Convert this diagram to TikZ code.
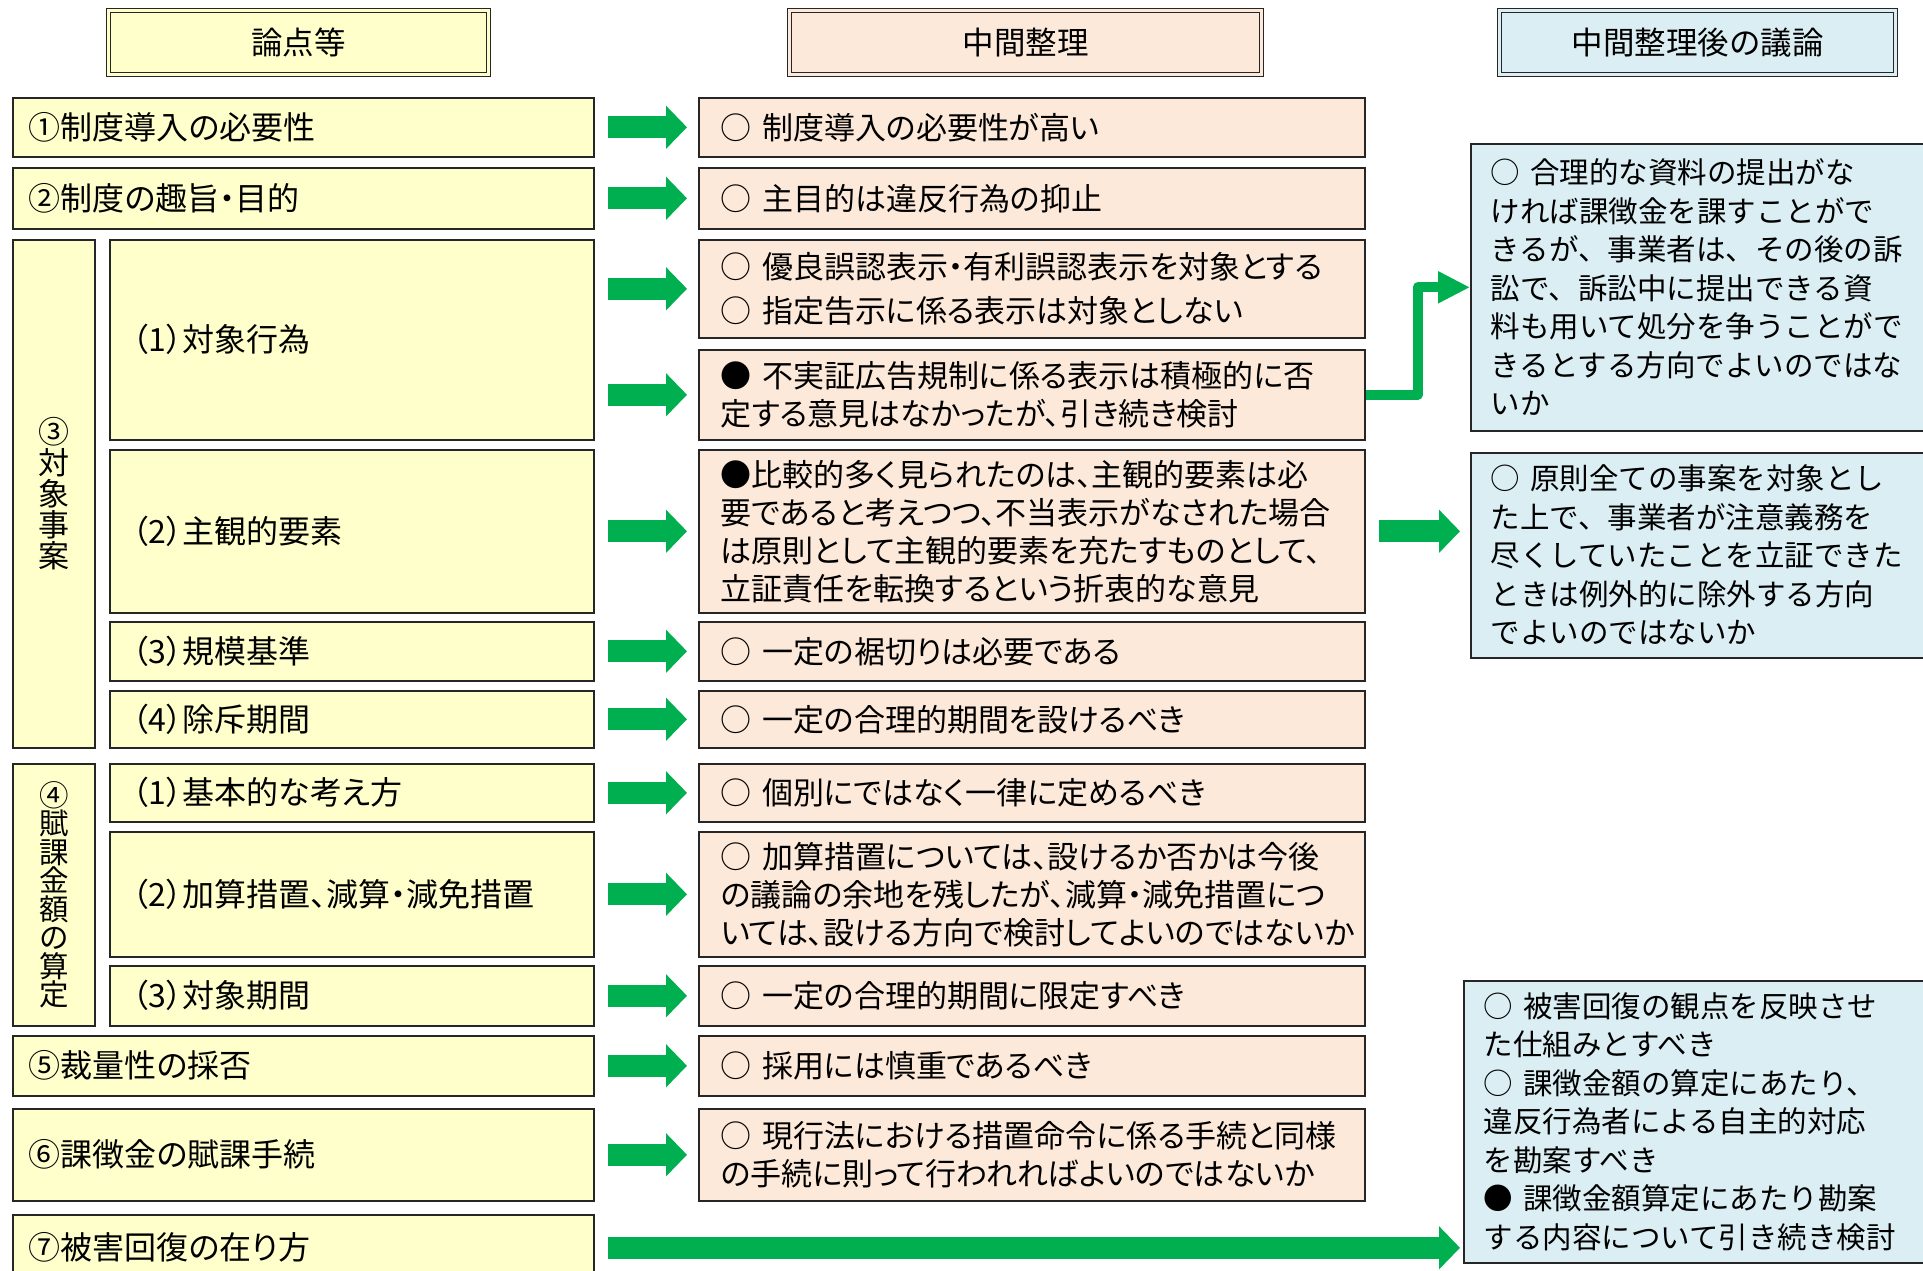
\documentclass[tikz,border=0pt]{standalone}
\usepackage{fontspec}
\setmainfont{Noto Sans CJK JP}
\newfontfamily\jpprop[RawFeature=+palt]{Noto Sans CJK JP}
\usetikzlibrary{arrows.meta}
\definecolor{pointfill}{HTML}{FFFFCC}
\definecolor{interimfill}{HTML}{FDE9D9}
\definecolor{afterfill}{HTML}{DBEEF3}
\definecolor{arrowgreen}{HTML}{00B050}

\begin{document}
\begin{tikzpicture}[x=1pt, y=-1pt,
    box/.style={draw=black!85, line width=1.6pt, anchor=north west, inner ysep=0pt,
      align=left, font=\jpprop\fontsize{31}{38}\selectfont},
    head/.style={draw=black!85, line width=1.3pt, double distance=2.6pt, anchor=north west,
      minimum height=64pt, font=\fontsize{31.5}{36}\selectfont},
    point/.style={box, fill=pointfill, minimum width=581pt, text width=549pt, inner xsep=16pt,
      font=\jpprop\fontsize{32}{38}\selectfont},
    sub/.style={point, minimum width=484pt, text width=438pt, inner xsep=23pt},
    tag/.style={box, fill=pointfill, minimum width=82pt, inner sep=0pt, align=center},
    interim/.style={box, fill=interimfill, minimum width=666pt, text width=622pt, inner xsep=22pt},
    after/.style={box, fill=afterfill, inner xsep=20pt, font=\fontsize{29.5}{38.5}\selectfont},
    flow/.style={draw=arrowgreen, line width=22pt, -{Triangle[length=21pt,width=42pt]},
      shorten <=13pt, shorten >=11pt},
    link/.style={draw=arrowgreen, line width=10pt, line join=round,
      -{Triangle[length=32pt,width=30pt]}}]
  \clip (0,0) rectangle (1923,1271);
  \fill[white] (0,0) rectangle (1923,1271);

  \node[head, fill=pointfill, double=pointfill, minimum width=380pt] (hpoint) at (108,10) {論点等};
  \node[head, fill=interimfill, double=interimfill, minimum width=472pt] (hinterim) at (789,10) {中間整理};
  \node[head, fill=afterfill, double=afterfill, minimum width=396pt] (hafter) at (1499,10) {中間整理後の議論};

  \node[point, minimum height=59pt] (l1) at (12,97) {①制度導入の必要性};
  \node[point, minimum height=61pt] (l2) at (12,167) {②制度の趣旨・目的};
  \node[tag, minimum height=508pt, font=\fontsize{31}{31}\selectfont] (l3) at (12,239) {③\\対\\象\\事\\案};
  \node[sub, minimum height=200pt] (l31) at (109,239) {（1）対象行為};
  \node[sub, minimum height=163pt] (l32) at (109,449) {（2）主観的要素};
  \node[sub, minimum height=59pt] (l33) at (109,621) {（3）規模基準};
  \node[sub, minimum height=57pt] (l34) at (109,690) {（4）除斥期間};
  \node[tag, minimum height=262pt, font=\fontsize{29.5}{28.5}\selectfont] (l4) at (12,763) {④\\賦\\課\\金\\額\\の\\算\\定};
  \node[sub, minimum height=58pt] (l41) at (109,763) {（1）基本的な考え方};
  \node[sub, minimum height=125pt] (l42) at (109,831) {（2）加算措置、減算・減免措置};
  \node[sub, minimum height=60pt] (l43) at (109,965) {（3）対象期間};
  \node[point, minimum height=60pt] (l5) at (12,1035) {⑤裁量性の採否};
  \node[point, minimum height=92pt] (l6) at (12,1108) {⑥課徴金の賦課手続};
  \node[point, minimum height=66pt] (l7) at (12,1214) {⑦被害回復の在り方};

  \node[interim, minimum height=59pt] (m1) at (698,97) {○ 制度導入の必要性が高い};
  \node[interim, minimum height=61pt] (m2) at (698,167) {○ 主目的は違反行為の抑止};
  \node[interim, minimum height=98pt] (m31a) at (698,239) {○ 優良誤認表示・有利誤認表示を対象とする\\[6pt]○ 指定告示に係る表示は対象としない};
  \node[interim, minimum height=90pt] (m31b) at (698,349) {● 不実証広告規制に係る表示は積極的に否\\定する意見はなかったが、引き続き検討};
  \node[interim, minimum height=163pt] (m32) at (698,449) {●比較的多く見られたのは、主観的要素は必\\要であると考えつつ、不当表示がなされた場合\\は原則として主観的要素を充たすものとして、\\立証責任を転換するという折衷的な意見};
  \node[interim, minimum height=59pt] (m33) at (698,621) {○ 一定の裾切りは必要である};
  \node[interim, minimum height=57pt] (m34) at (698,690) {○ 一定の合理的期間を設けるべき};
  \node[interim, minimum height=58pt] (m41) at (698,763) {○ 個別にではなく一律に定めるべき};
  \node[interim, minimum height=125pt] (m42) at (698,831) {○ 加算措置については、設けるか否かは今後\\の議論の余地を残したが、減算・減免措置につ\\いては、設ける方向で検討してよいのではないか};
  \node[interim, minimum height=60pt] (m43) at (698,965) {○ 一定の合理的期間に限定すべき};
  \node[interim, minimum height=60pt] (m5) at (698,1035) {○ 採用には慎重であるべき};
  \node[interim, minimum height=92pt] (m6) at (698,1108) {○ 現行法における措置命令に係る手続と同様\\の手続に則って行われればよいのではないか};

  \node[after, minimum width=465pt, text width=425pt, minimum height=287pt] (rA) at (1470,143) {○ 合理的な資料の提出がな\\ければ課徴金を課すことがで\\きるが、事業者は、その後の訴\\訟で、訴訟中に提出できる資\\料も用いて処分を争うことがで\\きるとする方向でよいのではな\\いか};
  \node[after, minimum width=465pt, text width=425pt, minimum height=205pt] (rB) at (1470,452) {○ 原則全ての事案を対象とし\\た上で、事業者が注意義務を\\尽くしていたことを立証できた\\ときは例外的に除外する方向\\でよいのではないか};
  \node[after, minimum width=472pt, text width=432pt, minimum height=282pt] (rC) at (1463,980) {○ 被害回復の観点を反映させ\\た仕組みとすべき\\○ 課徴金額の算定にあたり、\\違反行為者による自主的対応\\を勘案すべき\\● 課徴金額算定にあたり勘案\\する内容について引き続き検討};

  \draw[flow] (l1) -- (m1);
  \draw[flow] (l2) -- (m2);
  \draw[flow] (l31.east |- m31a.west) -- (m31a.west);
  \draw[flow] (l31.east |- m31b.west) -- (m31b.west);
  \draw[flow] (l32) -- (m32);
  \draw[flow] (l33) -- (m33);
  \draw[flow] (l34) -- (m34);
  \draw[flow] (l41) -- (m41);
  \draw[flow] (l42) -- (m42);
  \draw[flow] (l43) -- (m43);
  \draw[flow] (l5) -- (m5);
  \draw[flow] (l6) -- (m6);
  \draw[flow, shorten >=10pt] (m32.east) -- (m32.east -| rB.west);
  \draw[flow, shorten >=3pt] (l7.east) -- (l7.east -| rC.west);
  \draw[link] (m31b.east) -- ++(52,0) |- (rA.west);
\end{tikzpicture}
\end{document}
